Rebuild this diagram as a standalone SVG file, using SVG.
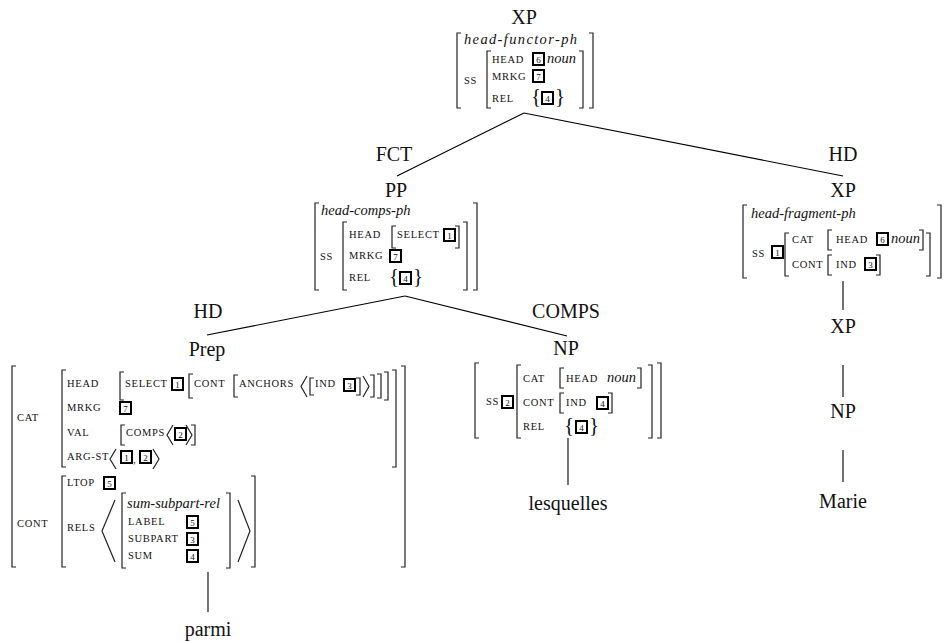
<svg xmlns="http://www.w3.org/2000/svg" width="945" height="642" viewBox="0 0 945 642">
<style>
text{font-family:"Liberation Serif","DejaVu Serif",serif;fill:#111}
.n{font-size:20px;text-anchor:middle}
.sc{font-size:10.5px;letter-spacing:0.7px}
.it{font-size:14.5px;font-style:italic}
.bc{font-size:21px}
.br{fill:none;stroke:#222;stroke-width:1.2}
.bx rect{fill:#fff;stroke:#000;stroke-width:2}
.bx text{font-size:9px;text-anchor:middle}
.edge{stroke:#000;stroke-width:1.1;fill:none}
</style>
<rect width="945" height="642" fill="#fff"/>
<g id="connectors" class="edge">
<path d="M524,113L397,176"/>
<path d="M524,113L843,176"/>
<path d="M405,296L207,335"/>
<path d="M405,296L567,336"/>
<path d="M843,281V310M843,365V397M843,450V482"/>
<path d="M568,438V485"/>
<path d="M208,572V612"/>
</g>
<g id="edge-labels">
<text class="n" x="394" y="161">FCT</text>
<text class="n" x="843" y="161">HD</text>
<text class="n" x="208" y="318">HD</text>
<text class="n" x="566" y="318">COMPS</text>
</g>
<g id="node-xp-top">
<text class="n" x="524" y="24">XP</text>
<path class="br" d="M461,33H457V108H461M589,33H593V108H589M491,51H487V108H491M579,51H583V108H579"/>
<text class="it" x="464" y="44" textLength="113">head-functor-ph</text>
<text class="sc" x="464" y="84">SS</text>
<text class="sc" x="492" y="63">HEAD</text>
<g class="bx" transform="translate(533,53)"><rect width="11" height="12"/><text x="5.5" y="9.5">6</text></g>
<text class="it" x="547" y="63">noun</text>
<text class="sc" x="492" y="80">MRKG</text>
<g class="bx" transform="translate(533,70)"><rect width="11" height="12"/><text x="5.5" y="9.5">7</text></g>
<text class="sc" x="492" y="102">REL</text>
<text class="bc" x="531" y="103">{</text>
<g class="bx" transform="translate(542,92)"><rect width="11" height="12"/><text x="5.5" y="9.5">4</text></g>
<text class="bc" x="555" y="103">}</text>
</g>
<g id="node-pp">
<text class="n" x="396" y="197">PP</text>
<path class="br" d="M319,203H315V290H319M473,203H477V290H473M347,222H343V290H347M463,222H467V290H463M396,226H392V248H396M455,226H459V248H455"/>
<text class="it" x="321" y="215">head-comps-ph</text>
<text class="sc" x="320" y="260">SS</text>
<text class="sc" x="349" y="238">HEAD</text>
<text class="sc" x="397" y="238">SELECT</text>
<g class="bx" transform="translate(444,229)"><rect width="11" height="12"/><text x="5.5" y="9.5">1</text></g>
<text class="sc" x="349" y="259">MRKG</text>
<g class="bx" transform="translate(390,250)"><rect width="11" height="12"/><text x="5.5" y="9.5">7</text></g>
<text class="sc" x="349" y="281">REL</text>
<text class="bc" x="389" y="283">{</text>
<g class="bx" transform="translate(400,272)"><rect width="11" height="12"/><text x="5.5" y="9.5">4</text></g>
<text class="bc" x="413" y="283">}</text>
</g>
<g id="node-xp-right">
<text class="n" x="843" y="197">XP</text>
<path class="br" d="M747,205H743V278H747M937,205H941V278H937M789,233H785V276H789M926,233H930V276H926M832,230H828V250H832M919,230H923V250H919M832,255H828V275H832M876,255H880V275H876"/>
<text class="it" x="751" y="218">head-fragment-ph</text>
<text class="sc" x="752" y="257">SS</text>
<g class="bx" transform="translate(772,246)"><rect width="11" height="12"/><text x="5.5" y="9.5">1</text></g>
<text class="sc" x="792" y="243">CAT</text>
<text class="sc" x="836" y="243">HEAD</text>
<g class="bx" transform="translate(877,233)"><rect width="11" height="12"/><text x="5.5" y="9.5">6</text></g>
<text class="it" x="891" y="243">noun</text>
<text class="sc" x="792" y="268">CONT</text>
<text class="sc" x="836" y="268">IND</text>
<g class="bx" transform="translate(865,258)"><rect width="11" height="12"/><text x="5.5" y="9.5">3</text></g>
</g>
<g id="node-xp-mid"><text class="n" x="843" y="333">XP</text></g>
<g id="node-np-right"><text class="n" x="843" y="418">NP</text></g>
<g id="node-marie"><text class="n" x="843" y="508">Marie</text></g>
<g id="node-np">
<text class="n" x="566" y="355">NP</text>
<path class="br" d="M479,363H475V438H479M657,363H661V438H657M521,365H517V438H521M648,365H652V438H648M564,368H560V388H564M637,368H641V388H637M564,393H560V413H564M608,393H612V413H608"/>
<text class="sc" x="486" y="405">SS</text>
<g class="bx" transform="translate(502,396)"><rect width="11" height="12"/><text x="5.5" y="9.5">2</text></g>
<text class="sc" x="523" y="382">CAT</text>
<text class="sc" x="566" y="382">HEAD</text>
<text class="it" x="607" y="382">noun</text>
<text class="sc" x="523" y="406">CONT</text>
<text class="sc" x="566" y="406">IND</text>
<g class="bx" transform="translate(597,397)"><rect width="11" height="12"/><text x="5.5" y="9.5">4</text></g>
<text class="sc" x="523" y="430">REL</text>
<text class="bc" x="564" y="432">{</text>
<g class="bx" transform="translate(576,421)"><rect width="11" height="12"/><text x="5.5" y="9.5">4</text></g>
<text class="bc" x="589" y="432">}</text>
</g>
<g id="node-lesquelles"><text class="n" x="568" y="510">lesquelles</text></g>
<g id="node-prep">
<text class="n" x="207" y="356">Prep</text>
<path class="br" d="M16,366H12V567H16M401,366H405V567H401M66,370H62V467H66M392,370H396V467H392M124,372H120V400H124M384,372H388V400H384M193,374H189V398H193M377,374H381V398H377M238,375H234V397H238M370,375H374V397H370M314,378H310V395H314M356,378H360V395H356"/>
<path class="br" d="M307,376L301,386.5L307,397M363,376L369,386.5L363,397"/>
<text class="sc" x="17" y="421">CAT</text>
<text class="sc" x="67" y="387">HEAD</text>
<text class="sc" x="125" y="387">SELECT</text>
<g class="bx" transform="translate(172,378)"><rect width="11" height="12"/><text x="5.5" y="9.5">1</text></g>
<text class="sc" x="194" y="387">CONT</text>
<text class="sc" x="239" y="387">ANCHORS</text>
<text class="sc" x="315" y="387">IND</text>
<g class="bx" transform="translate(344,379)"><rect width="11" height="12"/><text x="5.5" y="9.5">3</text></g>
<text class="sc" x="67" y="411">MRKG</text>
<g class="bx" transform="translate(120,402)"><rect width="11" height="12"/><text x="5.5" y="9.5">7</text></g>
<text class="sc" x="67" y="436">VAL</text>
<path class="br" d="M125,425H121V445H125M191,425H195V445H191M173,425L167,435L173,445M186,425L192,435L186,445"/>
<text class="sc" x="126" y="436">COMPS</text>
<g class="bx" transform="translate(175,428)"><rect width="11" height="12"/><text x="5.5" y="9.5">2</text></g>
<text class="sc" x="67" y="460">ARG-ST</text>
<path class="br" d="M116,449L110,459L116,469M153,449L159,459L153,469"/>
<g class="bx" transform="translate(121,451)"><rect width="11" height="12"/><text x="5.5" y="9.5">1</text></g>
<text x="133" y="463" style="font-size:11px">,</text>
<g class="bx" transform="translate(140,451)"><rect width="11" height="12"/><text x="5.5" y="9.5">2</text></g>
<path class="br" d="M66,476H62V567H66M251,476H255V567H251M126,493H122V568H126M226,493H230V568H226M115,500L102,531L115,562M238,500L250,531L238,562"/>
<text class="sc" x="17" y="527">CONT</text>
<text class="sc" x="67" y="486">LTOP</text>
<g class="bx" transform="translate(104,477)"><rect width="11" height="12"/><text x="5.5" y="9.5">5</text></g>
<text class="sc" x="67" y="531">RELS</text>
<text class="it" x="127" y="508">sum-subpart-rel</text>
<text class="sc" x="128" y="525">LABEL</text>
<g class="bx" transform="translate(187,516)"><rect width="11" height="12"/><text x="5.5" y="9.5">5</text></g>
<text class="sc" x="128" y="542">SUBPART</text>
<g class="bx" transform="translate(187,533)"><rect width="11" height="12"/><text x="5.5" y="9.5">3</text></g>
<text class="sc" x="128" y="559">SUM</text>
<g class="bx" transform="translate(187,550)"><rect width="11" height="12"/><text x="5.5" y="9.5">4</text></g>
</g>
<g id="node-parmi"><text class="n" x="208" y="636">parmi</text></g>
</svg>
